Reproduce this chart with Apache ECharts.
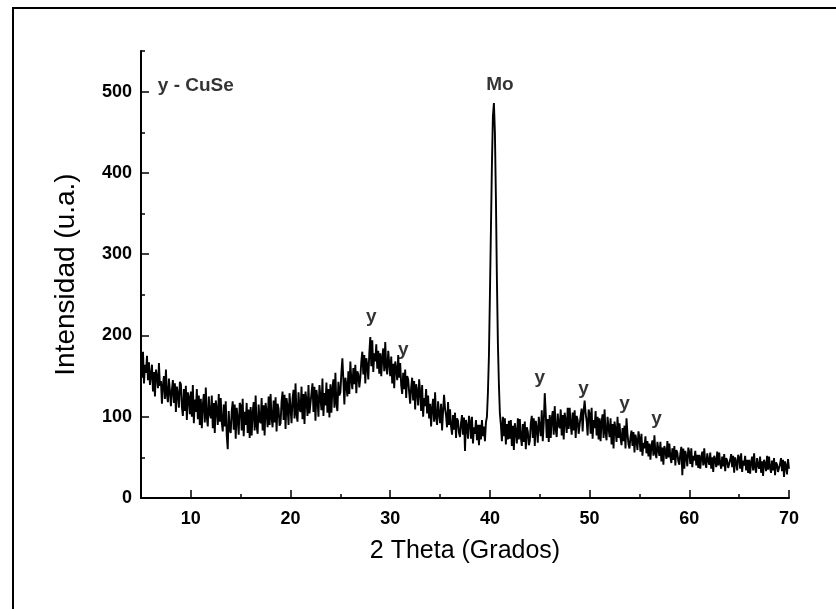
<!DOCTYPE html>
<html>
<head>
<meta charset="utf-8">
<script src="https://cdn.jsdelivr.net/npm/echarts@6/dist/echarts.min.js"></script>
<style>
  html, body { margin: 0; padding: 0; background: #fff; }
  #wrap { position: relative; width: 836px; height: 609px; overflow: hidden; }
  #chart { position: absolute; left: 0; top: 0; width: 836px; height: 609px; }
  #frame { position: absolute; left: 12px; top: 7px; width: 830px; height: 610px;
           border-top: 2px solid #000; border-left: 2px solid #000; pointer-events: none; }
</style>
</head>
<body>
<div id="wrap"><div id="chart"></div><div id="frame"></div></div>
<script>
// ---- data ----
const thetaStart = 5;      // first 2θ sample (degrees)
const thetaStep = 0.1;     // sampling step (degrees)
const intensity = [
  // 5.0 - 5.9
  172,148,180,141,164,154,175,145,167,139,
  // 6
  140,164,131,155,125,158,149,135,166,138,
  // 7
  144,116,139,150,122,158,127,118,147,132,
  // 8
  113,133,145,117,141,106,137,128,111,143,
  // 9
  140,112,101,134,107,138,96,130,124,103,
  // 10
  131,100,139,92,121,106,134,97,126,90,
  // 11
  122,86,115,128,93,136,99,88,125,104,
  // 12
  98,126,86,117,80,120,109,90,128,94,
  // 13
  123,93,82,115,88,119,77,60,107,84,
  // 14
  80,107,119,84,115,73,111,97,78,117,
  // 15
  114,83,122,76,106,90,117,80,109,74,
  // 16
  112,77,105,118,83,126,88,79,115,95,
  // 17
  92,123,83,114,77,117,106,87,125,90,
  // 18
  128,98,87,120,93,124,82,116,110,89,
  // 19
  92,119,131,96,127,85,123,112,90,129,
  // 20
  127,92,122,133,98,141,103,94,130,110,
  // 21
  106,137,97,128,91,131,120,101,139,104,
  // 22
  102,129,141,106,137,95,133,122,100,139,
  // 23
  139,108,147,101,129,114,142,105,134,99,
  // 24
  140,105,135,146,111,154,116,107,143,126,
  // 25
  130,154,172,145,115,148,139,125,156,128,
  // 26
  168,145,134,160,140,164,129,156,152,136,
  // 27
  148,168,180,152,176,141,172,163,146,178,
  // 28
  198,162,194,155,178,168,189,159,181,153,
  // 29
  178,150,173,184,156,192,161,152,181,166,
  // 30
  150,174,141,165,135,168,159,145,176,148,
  // 31
  166,139,128,154,134,158,123,150,146,130,
  // 32
  116,136,148,120,144,109,140,131,114,146,
  // 33
  131,107,139,100,123,113,134,104,126,98,
  // 34
  116,88,111,122,94,130,99,90,119,104,
  // 35
  92,116,83,107,127,110,101,87,118,90,
  // 36
  109,88,78,102,84,105,74,98,95,80,
  // 37
  75,92,102,78,99,58,96,88,73,101,
  // 38
  94,73,100,67,87,79,96,71,90,65,
  // 39
  90,72,96,76,88,70,93,100,130,175,
  // 40 (Mo peak)
  250,330,410,470,486,450,370,270,190,140,
  // 41
  104,90,70,100,76,98,66,91,72,95,
  // 42
  73,96,64,89,59,92,82,67,98,72,
  // 43
  97,75,64,91,69,94,60,87,82,65,
  // 44
  70,92,101,74,98,64,95,86,68,100,
  // 45
  101,76,108,70,93,129,104,74,97,69,
  // 46
  102,74,98,107,78,113,84,75,104,90,
  // 47
  86,109,77,102,72,105,95,80,111,85,
  // 48
  111,91,78,105,83,108,74,101,96,79,
  // 49
  79,101,110,82,107,120,104,95,77,109,
  // 50
  104,79,111,73,96,86,107,77,100,72,
  // 51
  98,70,94,103,74,109,80,71,100,86,
  // 52
  75,98,66,91,61,94,84,69,100,74,
  // 53
  92,74,65,86,70,89,61,98,79,66,
  // 54
  61,75,83,64,81,56,78,71,59,82,
  // 55
  74,57,79,52,68,61,76,55,70,51,
  // 56
  67,47,64,71,52,77,55,49,69,59,
  // 57
  52,69,45,62,41,64,58,48,70,50,
  // 58
  67,51,43,61,47,64,40,59,56,45,
  // 59
  41,55,63,28,61,36,58,51,39,62,
  // 60
  56,42,61,38,52,46,58,40,53,37,
  // 61
  53,36,50,57,40,61,43,37,55,46,
  // 62
  41,56,36,50,32,52,47,38,57,40,
  // 63
  56,42,36,51,39,54,33,49,46,37,
  // 64
  35,47,54,38,52,31,50,44,34,53,
  // 65
  50,36,55,32,46,40,52,34,47,31,
  // 66
  47,30,44,51,34,55,37,31,49,40,
  // 67
  36,51,31,45,27,47,42,33,52,35,
  // 68
  51,37,31,46,34,49,28,44,41,32,
  // 69
  30,42,49,33,47,26,45,39,29,48,
  // 70
  36
];

const annotationText = ['y - CuSe', 'Mo', 'y', 'y', 'y', 'y', 'y', 'y'];
const annotationTheta = [10.5, 41.0, 28.1, 31.3, 45.0, 49.4, 53.5, 56.7];
const annotationIntensity = [507, 509, 223, 183, 148, 134, 116, 97];

const xTitle = '2 Theta (Grados)';
const yTitle = 'Intensidad (u.a.)';

// ---- build ----
const FONT = "'Liberation Sans', Arial, sans-serif";
const points = intensity.map((v, i) => [+(thetaStart + i * thetaStep).toFixed(2), v]);
const labels = annotationText.map((t, i) => ({ name: t, value: [annotationTheta[i], annotationIntensity[i]] }));

const chart = echarts.init(document.getElementById('chart'), null, { renderer: 'canvas' });
const axisLineStyle = { color: '#000', width: 2 };
const tickStyle = { color: '#000', width: 1.5 };

chart.setOption({
  animation: false,
  backgroundColor: '#fff',
  grid: { left: 141, right: 47, top: 51, bottom: 111, containLabel: false },
  xAxis: [
    {
      type: 'value', min: 5, max: 70, position: 'bottom',
      name: xTitle, nameLocation: 'middle', nameGap: 41,
      nameTextStyle: { fontSize: 25, fontFamily: FONT, color: '#000' },
      axisLine: { show: true, onZero: false, lineStyle: axisLineStyle },
      axisTick: { show: true, inside: true, length: 8, lineStyle: tickStyle },
      axisLabel: { showMinLabel: false, margin: 12, fontSize: 18, fontWeight: 'bold', color: '#000', fontFamily: FONT },
      splitLine: { show: false }
    },
    {
      type: 'value', min: 5, max: 70, interval: 5, position: 'bottom',
      axisLine: { show: false, onZero: false },
      axisTick: { show: true, inside: true, length: 4, lineStyle: tickStyle },
      axisLabel: { show: false },
      splitLine: { show: false }
    }
  ],
  yAxis: [
    {
      type: 'value', min: 0, max: 550, interval: 100, position: 'left',
      name: yTitle, nameLocation: 'middle', nameGap: 61,
      nameTextStyle: { fontSize: 28, fontFamily: FONT, color: '#000' },
      axisLine: { show: true, onZero: false, lineStyle: axisLineStyle },
      axisTick: { show: true, inside: true, length: 8, lineStyle: tickStyle },
      axisLabel: { showMaxLabel: false, margin: 9, fontSize: 18, fontWeight: 'bold', color: '#000', fontFamily: FONT },
      splitLine: { show: false }
    },
    {
      type: 'value', min: 0, max: 550, interval: 50, position: 'left',
      axisLine: { show: false, onZero: false },
      axisTick: { show: true, inside: true, length: 4, lineStyle: tickStyle },
      axisLabel: { show: false },
      splitLine: { show: false }
    }
  ],
  series: [
    {
      type: 'line', xAxisIndex: 0, yAxisIndex: 0, data: points,
      showSymbol: false, symbol: 'none', silent: true,
      lineStyle: { color: '#000', width: 1.9 }, z: 3
    },
    {
      type: 'scatter', xAxisIndex: 0, yAxisIndex: 0, data: labels,
      symbolSize: 1, silent: true, itemStyle: { color: 'rgba(0,0,0,0)' },
      label: {
        show: true, position: 'inside', formatter: p => p.data.name,
        fontSize: 19, fontWeight: 'bold', color: '#000', fontFamily: FONT
      }, z: 4
    }
  ]
});
</script>
</body>
</html>
